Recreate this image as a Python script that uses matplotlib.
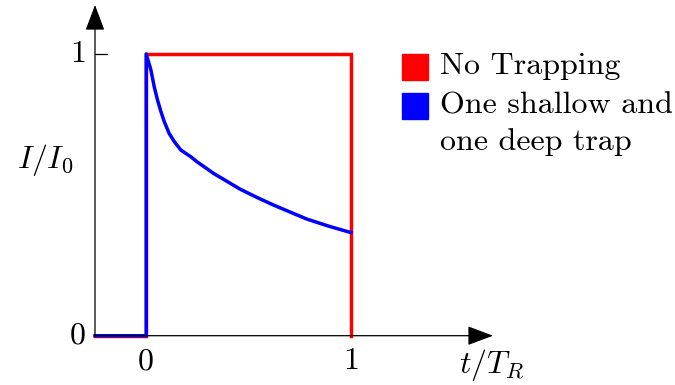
import numpy as np
import matplotlib
matplotlib.use('Agg')
import matplotlib.pyplot as plt
from matplotlib.patches import Rectangle

plt.rcParams['font.family'] = 'cmr10'
plt.rcParams['mathtext.fontset'] = 'cm'
plt.rcParams['axes.formatter.use_mathtext'] = True

# %% data
# no trapping: rectangular pulse
t_red = [-0.25, 0.0, 0.0, 1.0, 1.0]
i_red = [0.0, 0.0, 1.0, 1.0, 0.0]

# one shallow and one deep trap
t_blue = [-0.25, 0.0, 0.0, 0.023, 0.039, 0.055, 0.072, 0.088, 0.112,
          0.137, 0.169, 0.218, 0.247, 0.329, 0.459, 0.54, 0.621, 0.702,
          0.784, 0.89, 1.0]
i_blue = [0.0, 0.0, 1.0, 0.943, 0.884, 0.837, 0.795, 0.760, 0.718,
          0.689, 0.659, 0.635, 0.618, 0.576, 0.520, 0.491, 0.464, 0.439,
          0.414, 0.389, 0.366]

legend_labels = ['No Trapping', 'One shallow and\none deep trap']
legend_colors = ['#ff0000', '#0000ff']

x_ticks = [0, 1]
y_ticks = [0, 1]

# %% plot
W, H = 675, 385
fig = plt.figure(figsize=(W / 100, H / 100), dpi=100)
ax = fig.add_axes([95 / W, (H - 335.7) / H, (493 - 95) / W, (335.7 - 5) / H])
xmin, xmax = -0.25, (493 - 146) / 205
ymin, ymax = 0.0, (335.7 - 5) / 281.7
ax.set_xlim(xmin, xmax)
ax.set_ylim(ymin, ymax)
for s in ax.spines.values():
    s.set_visible(False)
ax.set_xticks([])
ax.set_yticks([])

fs = 23
# axes with arrow heads
arr = dict(arrowstyle='-|>,head_length=0.8,head_width=0.3', color='black',
           lw=0.9, mutation_scale=20, shrinkA=0, shrinkB=0)
ax.annotate('', xy=(xmax, 0), xytext=(xmin, 0), arrowprops=arr,
            annotation_clip=False)
ax.annotate('', xy=(xmin, ymax), xytext=(xmin, 0), arrowprops=arr,
            annotation_clip=False)

ax.plot(t_red, i_red, color=legend_colors[0], lw=2.5, clip_on=False,
        solid_joinstyle='miter')
ax.plot(t_blue, i_blue, color=legend_colors[1], lw=2.5, clip_on=False,
        solid_joinstyle='round')

# tick mark at 1 on the y axis
ax.plot([xmin, xmin + 12 / 205], [1, 1], color='black', lw=0.9)

for xt in x_ticks:
    ax.text(xt, -26 / 281.7, str(xt), ha='center', va='center', fontsize=fs)
for yt in y_ticks:
    ax.text(xmin - 17 / 205, yt, str(yt), ha='center', va='center', fontsize=fs)

fig.text(45 / W, 1 - 160 / H, r'$I/I_0$', ha='center', va='center', fontsize=fs)
fig.text(492 / W, 1 - 365 / H, r'$t/T_R$', ha='center', va='center', fontsize=fs)

# legend
rows = [67, 106]
for lab, col, yc in zip(legend_labels, legend_colors, rows):
    fig.patches.append(Rectangle((402 / W, 1 - (yc + 13) / H), 26 / W, 26 / H,
                                 transform=fig.transFigure, color=col))
    fig.text(440 / W, 1 - (yc - 14) / H, lab, ha='left', va='top',
             fontsize=fs, linespacing=1.4)

fig.savefig('out.png', dpi=100)
